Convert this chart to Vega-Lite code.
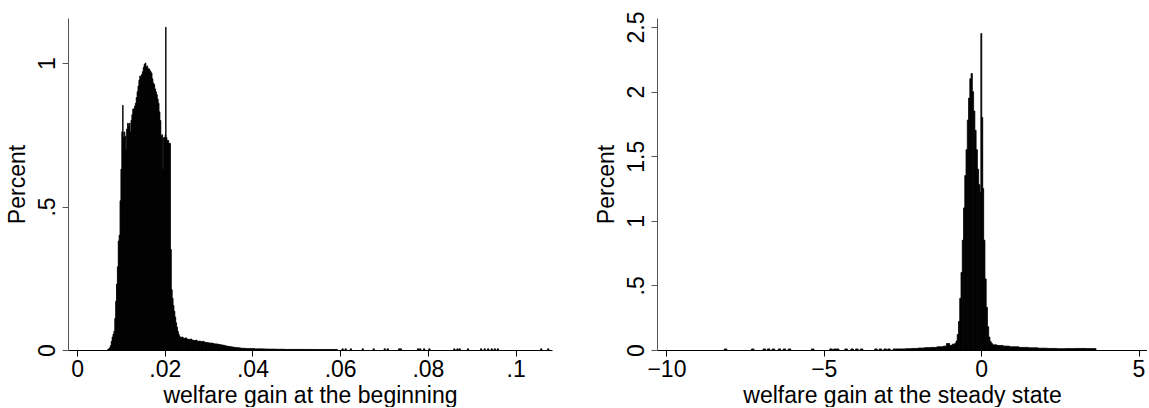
{
  "$schema": "https://vega.github.io/schema/vega-lite/v6.json",
  "background": "white",
  "padding": {"left": 6, "top": 11, "right": 0, "bottom": 0},
  "bounds": "flush",
  "spacing": 105,
  "config": {
    "view": {"stroke": null},
    "font": "Liberation Sans",
    "axis": {
      "grid": false,
      "labelFont": "Liberation Sans",
      "titleFont": "Liberation Sans",
      "labelFontSize": 23,
      "titleFontSize": 23,
      "titleFontWeight": "normal",
      "labelColor": "black",
      "titleColor": "black",
      "tickSize": 6,
      "labelFlush": false,
      "labelOverlap": false
    },
    "axisX": {"domainColor": "black", "tickColor": "black", "labelPadding": 2, "titlePadding": 3},
    "axisY": {"domainColor": "#555555", "tickColor": "#555555", "labelAngle": -90, "labelAlign": "center", "labelBaseline": "bottom", "labelPadding": 3, "titlePadding": 7}
  },
  "datasets": {
    "beg": [
      {"lo":0.0070,"hi":0.0072,"p":0.002},
      {"lo":0.0072,"hi":0.0074,"p":0.004},
      {"lo":0.0074,"hi":0.0076,"p":0.008},
      {"lo":0.0076,"hi":0.0078,"p":0.015},
      {"lo":0.0078,"hi":0.0080,"p":0.03},
      {"lo":0.0080,"hi":0.0082,"p":0.045},
      {"lo":0.0082,"hi":0.0084,"p":0.055},
      {"lo":0.0084,"hi":0.0086,"p":0.065},
      {"lo":0.0086,"hi":0.0088,"p":0.11},
      {"lo":0.0088,"hi":0.0090,"p":0.17},
      {"lo":0.0090,"hi":0.0092,"p":0.23},
      {"lo":0.0092,"hi":0.0094,"p":0.29},
      {"lo":0.0094,"hi":0.0096,"p":0.38},
      {"lo":0.0096,"hi":0.0098,"p":0.40},
      {"lo":0.0098,"hi":0.0100,"p":0.52},
      {"lo":0.0100,"hi":0.0102,"p":0.63},
      {"lo":0.0102,"hi":0.0104,"p":0.76},
      {"lo":0.0104,"hi":0.0105,"p":0.853},
      {"lo":0.0105,"hi":0.0107,"p":0.74},
      {"lo":0.0107,"hi":0.0109,"p":0.76},
      {"lo":0.0109,"hi":0.0111,"p":0.745},
      {"lo":0.0111,"hi":0.0113,"p":0.70},
      {"lo":0.0113,"hi":0.0115,"p":0.77},
      {"lo":0.0115,"hi":0.0117,"p":0.79},
      {"lo":0.0117,"hi":0.0119,"p":0.78},
      {"lo":0.0119,"hi":0.0121,"p":0.79},
      {"lo":0.0121,"hi":0.0123,"p":0.76},
      {"lo":0.0123,"hi":0.0125,"p":0.80},
      {"lo":0.0125,"hi":0.0127,"p":0.82},
      {"lo":0.0127,"hi":0.0129,"p":0.84},
      {"lo":0.0129,"hi":0.0131,"p":0.84},
      {"lo":0.0131,"hi":0.0133,"p":0.85},
      {"lo":0.0133,"hi":0.0135,"p":0.86},
      {"lo":0.0135,"hi":0.0137,"p":0.88},
      {"lo":0.0137,"hi":0.0139,"p":0.90},
      {"lo":0.0139,"hi":0.0141,"p":0.92},
      {"lo":0.0141,"hi":0.0143,"p":0.94},
      {"lo":0.0143,"hi":0.0145,"p":0.955},
      {"lo":0.0145,"hi":0.0147,"p":0.95},
      {"lo":0.0147,"hi":0.0149,"p":0.96},
      {"lo":0.0149,"hi":0.0151,"p":0.97},
      {"lo":0.0151,"hi":0.0153,"p":0.985},
      {"lo":0.0153,"hi":0.0155,"p":0.995},
      {"lo":0.0155,"hi":0.0157,"p":1.0},
      {"lo":0.0157,"hi":0.0159,"p":0.985},
      {"lo":0.0159,"hi":0.0161,"p":0.99},
      {"lo":0.0161,"hi":0.0163,"p":0.98},
      {"lo":0.0163,"hi":0.0165,"p":0.98},
      {"lo":0.0165,"hi":0.0167,"p":0.975},
      {"lo":0.0167,"hi":0.0169,"p":0.97},
      {"lo":0.0169,"hi":0.0171,"p":0.965},
      {"lo":0.0171,"hi":0.0173,"p":0.945},
      {"lo":0.0173,"hi":0.0175,"p":0.93},
      {"lo":0.0175,"hi":0.0177,"p":0.925},
      {"lo":0.0177,"hi":0.0179,"p":0.91},
      {"lo":0.0179,"hi":0.0181,"p":0.90},
      {"lo":0.0181,"hi":0.0183,"p":0.89},
      {"lo":0.0183,"hi":0.0185,"p":0.875},
      {"lo":0.0185,"hi":0.0187,"p":0.86},
      {"lo":0.0187,"hi":0.0189,"p":0.83},
      {"lo":0.0189,"hi":0.0191,"p":0.80},
      {"lo":0.0191,"hi":0.0193,"p":0.745},
      {"lo":0.0193,"hi":0.0195,"p":0.75},
      {"lo":0.0195,"hi":0.0197,"p":0.63},
      {"lo":0.0197,"hi":0.0199,"p":0.74},
      {"lo":0.0199,"hi":0.0201,"p":0.74},
      {"lo":0.0201,"hi":0.0202,"p":0.75},
      {"lo":0.0202,"hi":0.0203,"p":1.125},
      {"lo":0.0203,"hi":0.0205,"p":0.74},
      {"lo":0.0205,"hi":0.0207,"p":0.73},
      {"lo":0.0207,"hi":0.0209,"p":0.73},
      {"lo":0.0209,"hi":0.0211,"p":0.72},
      {"lo":0.0211,"hi":0.0213,"p":0.72},
      {"lo":0.0213,"hi":0.0215,"p":0.35},
      {"lo":0.0215,"hi":0.0217,"p":0.21},
      {"lo":0.0217,"hi":0.0219,"p":0.18},
      {"lo":0.0219,"hi":0.0221,"p":0.155},
      {"lo":0.0221,"hi":0.0223,"p":0.135},
      {"lo":0.0223,"hi":0.0225,"p":0.115},
      {"lo":0.0225,"hi":0.0227,"p":0.095},
      {"lo":0.0227,"hi":0.0229,"p":0.08},
      {"lo":0.0229,"hi":0.0231,"p":0.065},
      {"lo":0.0231,"hi":0.0233,"p":0.055},
      {"lo":0.0233,"hi":0.0235,"p":0.048},
      {"lo":0.0235,"hi":0.0238,"p":0.043},
      {"lo":0.0238,"hi":0.0242,"p":0.045},
      {"lo":0.0242,"hi":0.0246,"p":0.040},
      {"lo":0.0246,"hi":0.0250,"p":0.042},
      {"lo":0.0250,"hi":0.0254,"p":0.038},
      {"lo":0.0254,"hi":0.0258,"p":0.036},
      {"lo":0.0258,"hi":0.0262,"p":0.038},
      {"lo":0.0262,"hi":0.0266,"p":0.034},
      {"lo":0.0266,"hi":0.0270,"p":0.033},
      {"lo":0.0270,"hi":0.0274,"p":0.034},
      {"lo":0.0274,"hi":0.0278,"p":0.030},
      {"lo":0.0278,"hi":0.0282,"p":0.031},
      {"lo":0.0282,"hi":0.0286,"p":0.029},
      {"lo":0.0286,"hi":0.0290,"p":0.030},
      {"lo":0.0290,"hi":0.0294,"p":0.027},
      {"lo":0.0294,"hi":0.0298,"p":0.026},
      {"lo":0.0298,"hi":0.0302,"p":0.025},
      {"lo":0.0302,"hi":0.0306,"p":0.024},
      {"lo":0.0306,"hi":0.0310,"p":0.024},
      {"lo":0.0310,"hi":0.0314,"p":0.022},
      {"lo":0.0314,"hi":0.0318,"p":0.021},
      {"lo":0.0318,"hi":0.0322,"p":0.021},
      {"lo":0.0322,"hi":0.0326,"p":0.019},
      {"lo":0.0326,"hi":0.0330,"p":0.018},
      {"lo":0.0330,"hi":0.0334,"p":0.017},
      {"lo":0.0334,"hi":0.0338,"p":0.016},
      {"lo":0.0338,"hi":0.0342,"p":0.014},
      {"lo":0.0342,"hi":0.0346,"p":0.013},
      {"lo":0.0346,"hi":0.0350,"p":0.012},
      {"lo":0.0350,"hi":0.0354,"p":0.011},
      {"lo":0.0354,"hi":0.0358,"p":0.010},
      {"lo":0.0358,"hi":0.0362,"p":0.009},
      {"lo":0.0362,"hi":0.0366,"p":0.008},
      {"lo":0.0366,"hi":0.0370,"p":0.008},
      {"lo":0.0370,"hi":0.0374,"p":0.007},
      {"lo":0.0374,"hi":0.0384,"p":0.006},
      {"lo":0.0384,"hi":0.0394,"p":0.005},
      {"lo":0.0394,"hi":0.0404,"p":0.005},
      {"lo":0.0404,"hi":0.0414,"p":0.004},
      {"lo":0.0414,"hi":0.0424,"p":0.004},
      {"lo":0.0424,"hi":0.0434,"p":0.0035},
      {"lo":0.0434,"hi":0.0444,"p":0.003},
      {"lo":0.0444,"hi":0.0454,"p":0.003},
      {"lo":0.0454,"hi":0.0464,"p":0.0025},
      {"lo":0.0464,"hi":0.0474,"p":0.0025},
      {"lo":0.0474,"hi":0.0484,"p":0.002},
      {"lo":0.0484,"hi":0.0494,"p":0.002},
      {"lo":0.0494,"hi":0.0504,"p":0.002},
      {"lo":0.0504,"hi":0.0514,"p":0.002},
      {"lo":0.0514,"hi":0.0524,"p":0.002},
      {"lo":0.0524,"hi":0.0534,"p":0.0018},
      {"lo":0.0534,"hi":0.0544,"p":0.0018},
      {"lo":0.0544,"hi":0.0554,"p":0.0015},
      {"lo":0.0554,"hi":0.0564,"p":0.0015},
      {"lo":0.0564,"hi":0.0574,"p":0.0015},
      {"lo":0.0574,"hi":0.0584,"p":0.0015},
      {"lo":0.0584,"hi":0.0594,"p":0.0015},
      {"lo":0.0604,"hi":0.0607,"p":0.004},
      {"lo":0.0611,"hi":0.0614,"p":0.004},
      {"lo":0.0623,"hi":0.0626,"p":0.004},
      {"lo":0.0650,"hi":0.0653,"p":0.004},
      {"lo":0.0675,"hi":0.0678,"p":0.004},
      {"lo":0.0700,"hi":0.0703,"p":0.004},
      {"lo":0.0707,"hi":0.0710,"p":0.004},
      {"lo":0.0733,"hi":0.0736,"p":0.004},
      {"lo":0.0737,"hi":0.0740,"p":0.004},
      {"lo":0.0776,"hi":0.0779,"p":0.004},
      {"lo":0.0781,"hi":0.0784,"p":0.004},
      {"lo":0.0790,"hi":0.0793,"p":0.004},
      {"lo":0.0802,"hi":0.0805,"p":0.004},
      {"lo":0.0859,"hi":0.0862,"p":0.004},
      {"lo":0.0866,"hi":0.0869,"p":0.004},
      {"lo":0.0871,"hi":0.0874,"p":0.004},
      {"lo":0.0890,"hi":0.0893,"p":0.004},
      {"lo":0.0920,"hi":0.0923,"p":0.004},
      {"lo":0.0928,"hi":0.0931,"p":0.004},
      {"lo":0.0936,"hi":0.0939,"p":0.004},
      {"lo":0.0944,"hi":0.0947,"p":0.004},
      {"lo":0.0951,"hi":0.0954,"p":0.004},
      {"lo":0.0958,"hi":0.0961,"p":0.004},
      {"lo":0.1057,"hi":0.1060,"p":0.004},
      {"lo":0.1073,"hi":0.1076,"p":0.004}
    ],
    "ss": [
      {"lo":-8.16,"hi":-8.08,"p":0.008},
      {"lo":-7.30,"hi":-7.22,"p":0.008},
      {"lo":-6.93,"hi":-6.85,"p":0.008},
      {"lo":-6.79,"hi":-6.71,"p":0.008},
      {"lo":-6.64,"hi":-6.56,"p":0.008},
      {"lo":-6.45,"hi":-6.37,"p":0.008},
      {"lo":-6.29,"hi":-6.21,"p":0.008},
      {"lo":-6.13,"hi":-6.05,"p":0.008},
      {"lo":-5.39,"hi":-5.31,"p":0.008},
      {"lo":-4.81,"hi":-4.73,"p":0.008},
      {"lo":-4.69,"hi":-4.61,"p":0.008},
      {"lo":-4.60,"hi":-4.52,"p":0.008},
      {"lo":-4.33,"hi":-4.25,"p":0.008},
      {"lo":-4.14,"hi":-4.06,"p":0.008},
      {"lo":-3.99,"hi":-3.91,"p":0.008},
      {"lo":-3.84,"hi":-3.76,"p":0.008},
      {"lo":-3.38,"hi":-3.30,"p":0.008},
      {"lo":-3.24,"hi":-3.16,"p":0.008},
      {"lo":-3.09,"hi":-3.01,"p":0.008},
      {"lo":-2.97,"hi":-2.89,"p":0.008},
      {"lo":-2.8,"hi":-2.6,"p":0.008},
      {"lo":-2.6,"hi":-2.4,"p":0.008},
      {"lo":-2.4,"hi":-2.2,"p":0.01},
      {"lo":-2.2,"hi":-2.0,"p":0.012},
      {"lo":-2.0,"hi":-1.8,"p":0.015},
      {"lo":-1.8,"hi":-1.6,"p":0.018},
      {"lo":-1.6,"hi":-1.4,"p":0.02},
      {"lo":-1.4,"hi":-1.2,"p":0.025},
      {"lo":-1.2,"hi":-1.1,"p":0.03},
      {"lo":-1.1,"hi":-1.0,"p":0.05},
      {"lo":-1.0,"hi":-0.92,"p":0.035},
      {"lo":-0.92,"hi":-0.84,"p":0.045},
      {"lo":-0.84,"hi":-0.80,"p":0.05},
      {"lo":-0.80,"hi":-0.76,"p":0.07},
      {"lo":-0.76,"hi":-0.72,"p":0.12},
      {"lo":-0.72,"hi":-0.68,"p":0.22},
      {"lo":-0.68,"hi":-0.64,"p":0.40},
      {"lo":-0.64,"hi":-0.60,"p":0.60},
      {"lo":-0.60,"hi":-0.56,"p":0.85},
      {"lo":-0.56,"hi":-0.52,"p":1.10},
      {"lo":-0.52,"hi":-0.48,"p":1.35},
      {"lo":-0.48,"hi":-0.44,"p":1.55},
      {"lo":-0.44,"hi":-0.40,"p":1.78},
      {"lo":-0.40,"hi":-0.36,"p":1.95},
      {"lo":-0.36,"hi":-0.32,"p":2.10},
      {"lo":-0.32,"hi":-0.28,"p":2.14},
      {"lo":-0.28,"hi":-0.24,"p":2.0},
      {"lo":-0.24,"hi":-0.20,"p":1.85},
      {"lo":-0.20,"hi":-0.16,"p":1.70},
      {"lo":-0.16,"hi":-0.12,"p":1.55},
      {"lo":-0.12,"hi":-0.08,"p":1.40},
      {"lo":-0.08,"hi":-0.04,"p":1.28},
      {"lo":-0.04,"hi":-0.01,"p":1.22},
      {"lo":-0.01,"hi":0.02,"p":2.45},
      {"lo":0.02,"hi":0.05,"p":1.8},
      {"lo":0.05,"hi":0.08,"p":1.25},
      {"lo":0.08,"hi":0.12,"p":0.85},
      {"lo":0.12,"hi":0.16,"p":0.55},
      {"lo":0.16,"hi":0.20,"p":0.33},
      {"lo":0.20,"hi":0.24,"p":0.18},
      {"lo":0.24,"hi":0.28,"p":0.10},
      {"lo":0.28,"hi":0.32,"p":0.065},
      {"lo":0.32,"hi":0.36,"p":0.05},
      {"lo":0.36,"hi":0.5,"p":0.04},
      {"lo":0.5,"hi":0.7,"p":0.035},
      {"lo":0.7,"hi":0.9,"p":0.03},
      {"lo":0.9,"hi":1.2,"p":0.025},
      {"lo":1.2,"hi":1.5,"p":0.02},
      {"lo":1.5,"hi":1.8,"p":0.017},
      {"lo":1.8,"hi":2.1,"p":0.014},
      {"lo":2.1,"hi":2.4,"p":0.012},
      {"lo":2.4,"hi":2.7,"p":0.01},
      {"lo":2.7,"hi":3.0,"p":0.011},
      {"lo":3.0,"hi":3.3,"p":0.012},
      {"lo":3.3,"hi":3.65,"p":0.011}
    ]
  },
  "hconcat": [
    {
      "data": {"name": "beg"},
      "width": 484,
      "height": 332,
      "mark": {"type": "rect", "color": "black", "stroke": "black", "strokeWidth": 0.8},
      "encoding": {
        "x": {"field": "lo", "type": "quantitative",
              "scale": {"domain": [-0.00206, 0.1083], "nice": false, "zero": false},
              "axis": {"title": "welfare gain at the beginning", "values": [0, 0.02, 0.04, 0.06, 0.08, 0.1],
                       "labelExpr": "datum.value == 0 ? '0' : slice(format(datum.value, '.2~f'), 1)"}},
        "x2": {"field": "hi"},
        "y": {"field": "p", "type": "quantitative",
              "scale": {"domain": [0, 1.157], "nice": false},
              "axis": {"title": "Percent", "values": [0, 0.5, 1],
                       "labelExpr": "datum.value == 0.5 ? '.5' : format(datum.value, '~g')"}},
        "y2": {"datum": 0}
      }
    },
    {
      "data": {"name": "ss"},
      "width": 490,
      "height": 332,
      "mark": {"type": "rect", "color": "black", "stroke": "black", "strokeWidth": 0.8},
      "encoding": {
        "x": {"field": "lo", "type": "quantitative",
              "scale": {"domain": [-10.3, 5.27], "nice": false, "zero": false},
              "axis": {"title": "welfare gain at the steady state", "values": [-10, -5, 0, 5]}},
        "x2": {"field": "hi"},
        "y": {"field": "p", "type": "quantitative",
              "scale": {"domain": [0, 2.57], "nice": false},
              "axis": {"title": "Percent", "values": [0, 0.5, 1, 1.5, 2, 2.5],
                       "labelExpr": "datum.value == 0.5 ? '.5' : format(datum.value, '~g')"}},
        "y2": {"datum": 0}
      }
    }
  ]
}
